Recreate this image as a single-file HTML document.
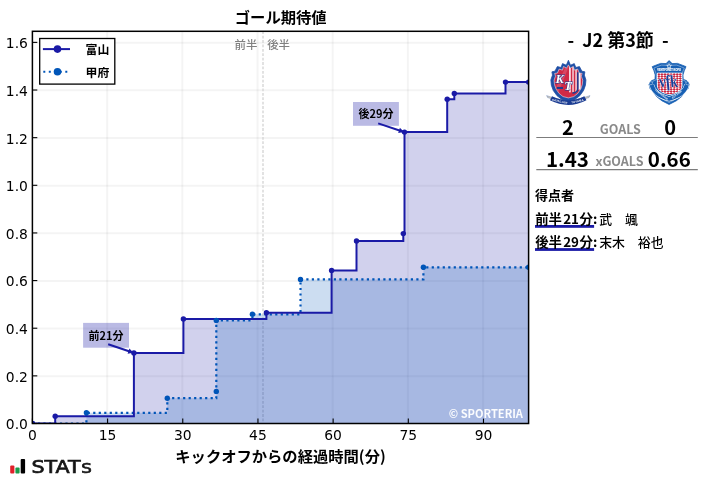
<!DOCTYPE html>
<html lang="ja">
<head>
<meta charset="utf-8">
<title>ゴール期待値</title>
<style>
html,body{margin:0;padding:0;background:#fff;}
body{width:707px;height:479px;overflow:hidden;font-family:"Liberation Sans","Noto Sans CJK JP",sans-serif;}
svg{display:block;}
.jp{font-family:"Noto Sans CJK JP","Liberation Sans",sans-serif;}
.dv{font-family:"DejaVu Sans","Liberation Sans",sans-serif;font-size:13.89px;fill:#000;}
</style>
</head>
<body>
<svg width="707" height="479" viewBox="0 0 707 479">
<rect x="0" y="0" width="707" height="479" fill="#ffffff"/>
<defs><clipPath id="ax"><rect x="32.4" y="31.3" width="496.20000000000005" height="392.2"/></clipPath></defs>
<g stroke="#000000" stroke-opacity="0.045" stroke-width="2" fill="none">
<line x1="107.18" y1="31.3" x2="107.18" y2="423.5"/>
<line x1="182.36" y1="31.3" x2="182.36" y2="423.5"/>
<line x1="257.55" y1="31.3" x2="257.55" y2="423.5"/>
<line x1="332.73" y1="31.3" x2="332.73" y2="423.5"/>
<line x1="407.91" y1="31.3" x2="407.91" y2="423.5"/>
<line x1="483.09" y1="31.3" x2="483.09" y2="423.5"/>
<line x1="32.4" y1="376.21" x2="528.6" y2="376.21"/>
<line x1="32.4" y1="328.57" x2="528.6" y2="328.57"/>
<line x1="32.4" y1="280.93" x2="528.6" y2="280.93"/>
<line x1="32.4" y1="233.29" x2="528.6" y2="233.29"/>
<line x1="32.4" y1="185.65" x2="528.6" y2="185.65"/>
<line x1="32.4" y1="138.01" x2="528.6" y2="138.01"/>
<line x1="32.4" y1="90.37" x2="528.6" y2="90.37"/>
<line x1="32.4" y1="42.73" x2="528.6" y2="42.73"/>
</g>
<line x1="263.0" y1="31.3" x2="263.0" y2="423.5" stroke="#d6d6d6" stroke-width="1.4" stroke-dasharray="2.8,1.6"/>
<text class="jp" x="257.4" y="49.2" font-size="11.4" font-weight="500" fill="#808080" text-anchor="end">前半</text>
<text class="jp" x="267.2" y="49.2" font-size="11.4" font-weight="500" fill="#808080">後半</text>
<g clip-path="url(#ax)">
<path d="M32.4,423.5 H55.2 V416.2 H133.9 V352.9 H183.4 V319.0 H266.4 V312.7 H331.6 V270.4 H356.5 V241.0 H403.3 V233.6 H404.5 V132.1 H447.2 V99.3 H454.3 V93.4 H505.5 V82.1 H528.6 V423.5 Z" fill="#1a1aa6" fill-opacity="0.2" stroke="none"/>
<path d="M32.4,423.5 H86.4 V412.8 H167.3 V398.2 H216.3 V391.4 H216.3 V320.4 H252.4 V314.3 H300.5 V279.4 H423.4 V267.3 H528.6 V423.5 Z" fill="#0055b8" fill-opacity="0.2" stroke="none"/>
<path d="M32.4,423.5 H86.4 V412.8 H167.3 V398.2 H216.3 V391.4 H216.3 V320.4 H252.4 V314.3 H300.5 V279.4 H423.4 V267.3 H528.6" fill="none" stroke="#0055b8" stroke-width="2.2" stroke-dasharray="2.2,3.3"/>
<path d="M32.4,423.5 H55.2 V416.2 H133.9 V352.9 H183.4 V319.0 H266.4 V312.7 H331.6 V270.4 H356.5 V241.0 H403.3 V233.6 H404.5 V132.1 H447.2 V99.3 H454.3 V93.4 H505.5 V82.1 H528.6" fill="none" stroke="#1a1aa6" stroke-width="2" stroke-linejoin="miter"/>
<g fill="#0055b8">
<circle cx="32.4" cy="423.5" r="2.7"/>
<circle cx="86.4" cy="412.8" r="2.7"/>
<circle cx="167.3" cy="398.2" r="2.7"/>
<circle cx="216.3" cy="391.4" r="2.7"/>
<circle cx="216.3" cy="320.4" r="2.7"/>
<circle cx="252.4" cy="314.3" r="2.7"/>
<circle cx="300.5" cy="279.4" r="2.7"/>
<circle cx="423.4" cy="267.3" r="2.7"/>
<circle cx="528.6" cy="267.3" r="2.7"/>
</g>
<g fill="#1a1aa6">
<circle cx="32.4" cy="423.5" r="2.7"/>
<circle cx="55.2" cy="416.2" r="2.7"/>
<circle cx="133.9" cy="352.9" r="2.7"/>
<circle cx="183.4" cy="319.0" r="2.7"/>
<circle cx="266.4" cy="312.7" r="2.7"/>
<circle cx="331.6" cy="270.4" r="2.7"/>
<circle cx="356.5" cy="241.0" r="2.7"/>
<circle cx="403.3" cy="233.6" r="2.7"/>
<circle cx="404.5" cy="132.1" r="2.7"/>
<circle cx="447.2" cy="99.3" r="2.7"/>
<circle cx="454.3" cy="93.4" r="2.7"/>
<circle cx="505.5" cy="82.1" r="2.7"/>
<circle cx="528.6" cy="82.1" r="2.7"/>
</g>
</g>
<rect x="83.1" y="322.9" width="45.9" height="24.8" fill="#1a1aa6" fill-opacity="0.3"/>
<text class="jp" x="106.0" y="339.7" font-size="11" font-weight="700" fill="#000" text-anchor="middle">前21分</text>
<line x1="108.2" y1="344.2" x2="133.4" y2="352.8" stroke="#1a1aa6" stroke-width="2"/>
<polygon points="133.4,352.8 127.6,353.7 129.4,348.6" fill="#1a1aa6"/>
<rect x="353.0" y="102.0" width="45.9" height="23.8" fill="#1a1aa6" fill-opacity="0.3"/>
<text class="jp" x="375.9" y="118.3" font-size="11" font-weight="700" fill="#000" text-anchor="middle">後29分</text>
<line x1="378.2" y1="123.4" x2="404.0" y2="132.0" stroke="#1a1aa6" stroke-width="2"/>
<polygon points="404.0,132.0 398.2,132.9 399.9,127.8" fill="#1a1aa6"/>
<text class="jp" x="523.0" y="417.8" font-size="11.1" font-weight="700" fill="#ffffff" fill-opacity="0.95" text-anchor="end">© SPORTERIA</text>
<rect x="32.4" y="31.3" width="496.20000000000005" height="392.2" fill="none" stroke="#000" stroke-width="1.5"/>
<g stroke="#000" stroke-width="1.1">
<line x1="32.40" y1="423.5" x2="32.40" y2="418.6"/>
<line x1="107.58" y1="423.5" x2="107.58" y2="418.6"/>
<line x1="182.76" y1="423.5" x2="182.76" y2="418.6"/>
<line x1="257.95" y1="423.5" x2="257.95" y2="418.6"/>
<line x1="333.13" y1="423.5" x2="333.13" y2="418.6"/>
<line x1="408.31" y1="423.5" x2="408.31" y2="418.6"/>
<line x1="483.49" y1="423.5" x2="483.49" y2="418.6"/>
<line x1="32.4" y1="423.50" x2="37.3" y2="423.50"/>
<line x1="32.4" y1="375.86" x2="37.3" y2="375.86"/>
<line x1="32.4" y1="328.22" x2="37.3" y2="328.22"/>
<line x1="32.4" y1="280.58" x2="37.3" y2="280.58"/>
<line x1="32.4" y1="232.94" x2="37.3" y2="232.94"/>
<line x1="32.4" y1="185.30" x2="37.3" y2="185.30"/>
<line x1="32.4" y1="137.66" x2="37.3" y2="137.66"/>
<line x1="32.4" y1="90.02" x2="37.3" y2="90.02"/>
<line x1="32.4" y1="42.38" x2="37.3" y2="42.38"/>
</g>
<text class="dv" x="32.40" y="440.3" text-anchor="middle">0</text>
<text class="dv" x="107.58" y="440.3" text-anchor="middle">15</text>
<text class="dv" x="182.76" y="440.3" text-anchor="middle">30</text>
<text class="dv" x="257.95" y="440.3" text-anchor="middle">45</text>
<text class="dv" x="333.13" y="440.3" text-anchor="middle">60</text>
<text class="dv" x="408.31" y="440.3" text-anchor="middle">75</text>
<text class="dv" x="483.49" y="440.3" text-anchor="middle">90</text>
<text class="dv" x="27.9" y="429.40" text-anchor="end">0.0</text>
<text class="dv" x="27.9" y="381.76" text-anchor="end">0.2</text>
<text class="dv" x="27.9" y="334.12" text-anchor="end">0.4</text>
<text class="dv" x="27.9" y="286.48" text-anchor="end">0.6</text>
<text class="dv" x="27.9" y="238.84" text-anchor="end">0.8</text>
<text class="dv" x="27.9" y="191.20" text-anchor="end">1.0</text>
<text class="dv" x="27.9" y="143.56" text-anchor="end">1.2</text>
<text class="dv" x="27.9" y="95.92" text-anchor="end">1.4</text>
<text class="dv" x="27.9" y="48.28" text-anchor="end">1.6</text>
<text class="jp" x="280.7" y="22.6" font-size="15.3" font-weight="700" fill="#000" text-anchor="middle">ゴール期待値</text>
<text class="jp" x="280.5" y="462.2" font-size="15.3" font-weight="700" fill="#000" text-anchor="middle">キックオフからの経過時間(分)</text>
<rect x="39.7" y="38.5" width="75.1" height="45.6" fill="#fff" stroke="#000" stroke-width="1.3"/>
<line x1="42.9" y1="49.1" x2="70" y2="49.1" stroke="#1a1aa6" stroke-width="2"/>
<circle cx="57.5" cy="49.1" r="3.8" fill="#1a1aa6"/>
<line x1="43.3" y1="71.8" x2="70" y2="71.8" stroke="#0055b8" stroke-width="2" stroke-dasharray="2,3.5"/>
<circle cx="57.5" cy="71.8" r="3.8" fill="#0055b8"/>
<text class="jp" x="85.6" y="53.8" font-size="11.9" font-weight="700" fill="#000">富山</text>
<text class="jp" x="85.6" y="76.6" font-size="11.9" font-weight="700" fill="#000">甲府</text>
<rect x="10.2" y="465.6" width="4.2" height="8" rx="1" fill="#e0202a"/>
<rect x="15.4" y="467.6" width="4.2" height="6" rx="1" fill="#1a9a4a"/>
<rect x="20.7" y="459" width="4.4" height="14.6" rx="1" fill="#000"/>
<text transform="translate(31.5,472.8) scale(1.185,1)" font-family="'DejaVu Sans','Liberation Sans',sans-serif" font-weight="400" font-size="17.4" fill="#151515" stroke="#151515" stroke-width="0.7">STAT<tspan font-size="14" dx="0.6">S</tspan></text>
<text class="jp" x="618" y="46.6" font-size="18" font-weight="700" fill="#000" text-anchor="middle" xml:space="preserve">-  J2 第3節  -</text>
<g id="crest-toyama">
<clipPath id="c1in"><polygon points="568.40,64.84 570.10,68.15 573.32,66.46 574.36,70.14 577.64,69.04 579.35,73.03 582.14,73.42 581.34,76.25 582.72,80.17 582.33,84.47 580.86,88.82 577.87,93.31 573.84,96.57 568.40,97.91 562.96,96.57 558.93,93.31 555.94,88.82 554.47,84.47 554.08,80.17 555.46,76.25 554.66,73.42 557.45,73.03 559.16,69.04 562.44,70.14 563.48,66.46 566.70,68.15"/></clipPath>
<path d="M546.6,95.6 Q568.40,104.4 590.0,95.6 L589.0,97.6 Q568.40,106.0 547.6,97.6 Z" fill="#d2cab8" stroke="#1f4fa5" stroke-width="0.3"/>
<polygon points="568.40,60.28 570.48,65.19 574.27,63.61 575.79,67.47 579.48,66.60 581.85,71.16 584.88,71.86 584.32,75.11 585.93,79.93 585.45,85.19 583.56,90.46 579.77,95.72 574.84,99.40 568.40,102.04 561.96,99.40 557.03,95.72 553.24,90.46 551.35,85.19 550.87,79.93 552.48,75.11 551.92,71.86 554.95,71.16 557.32,66.60 561.01,67.47 562.53,63.61 566.32,65.19" fill="#1f4fa5" stroke="#1f4fa5" stroke-width="0.8" stroke-linejoin="round"/>
<polygon points="568.40,64.84 570.10,68.15 573.32,66.46 574.36,70.14 577.64,69.04 579.35,73.03 582.14,73.42 581.34,76.25 582.72,80.17 582.33,84.47 580.86,88.82 577.87,93.31 573.84,96.57 568.40,97.91 562.96,96.57 558.93,93.31 555.94,88.82 554.47,84.47 554.08,80.17 555.46,76.25 554.66,73.42 557.45,73.03 559.16,69.04 562.44,70.14 563.48,66.46 566.70,68.15" fill="#d02a46" stroke="#ffffff" stroke-width="0.5"/>
<g clip-path="url(#c1in)">
<polygon points="554,92 566,66 569,66 557,96" fill="#e0607a" opacity="0.55"/>
<rect x="569.16" y="62" width="1.52" height="30.33" fill="#ffffff"/>
<rect x="572.42" y="62" width="1.19" height="30.33" fill="#ffffff"/>
<rect x="575.45" y="62" width="1.19" height="30.33" fill="#ffffff"/>
<rect x="578.27" y="72.27" width="2.39" height="17.35" fill="#f4f4fa"/>
<path d="M577.84,72.27 V88.54 Q577.84,92.88 572.42,93.09" fill="none" stroke="#1b3c92" stroke-width="1.5"/>
</g>
<text x="555.50" y="83.33" font-family="'Liberation Serif',serif" font-style="italic" font-weight="700" font-size="12.5" fill="#ffffff" stroke="#1b3c92" stroke-width="0.9" paint-order="stroke">K</text>
<text x="564.17" y="90.06" font-family="'Liberation Serif',serif" font-style="italic" font-weight="700" font-size="12.5" fill="#ffffff" stroke="#1b3c92" stroke-width="0.9" paint-order="stroke">T</text>
<rect x="556.80" y="86.94" width="6.2" height="2.0" fill="#1b3c92"/>
<path id="rib1" d="M551.0,98.3 Q568.40,107.1 585.4,98.3" fill="none" stroke="#1b3c92" stroke-width="4.6"/>
<g font-family="'Liberation Sans',sans-serif" font-weight="700" font-size="2.7" fill="#ffffff" letter-spacing="0.2" text-anchor="middle"><text transform="translate(559.6,102.3) rotate(12)">KATALLER</text><text transform="translate(577.6,102.2) rotate(-12)">TOYAMA</text></g>
</g>
<g id="crest-kofu">
<polygon points="669.10,60.56 672.11,63.59 677.54,63.38 682.42,65.22 686.00,66.63 684.26,70.64 682.96,74.98 683.18,79.32 686.76,80.73 689.14,84.42 688.17,88.54 685.35,91.79 681.88,96.35 676.45,100.69 669.10,104.48 661.75,100.69 656.32,96.35 652.85,91.79 650.03,88.54 649.06,84.42 651.44,80.73 655.02,79.32 655.24,74.98 653.94,70.64 652.20,66.63 655.78,65.22 660.66,63.38 666.09,63.59" fill="#1760b4" stroke="#1760b4" stroke-width="0.8" stroke-linejoin="round"/>
<polygon points="669.10,62.53 671.81,65.29 676.69,65.10 681.09,66.77 684.31,68.06 682.75,71.71 681.57,75.66 681.77,79.61 684.99,80.89 687.14,84.24 686.26,87.99 683.72,90.96 680.60,95.10 675.72,99.05 669.10,102.50 662.48,99.05 657.60,95.10 654.48,90.96 651.94,87.99 651.06,84.24 653.21,80.89 656.43,79.61 656.63,75.66 655.45,71.71 653.89,68.06 657.11,66.77 661.51,65.10 666.39,65.29" fill="none" stroke="#ffffff" stroke-width="0.45" stroke-opacity="0.85"/>
<clipPath id="c2in"><path d="M657.40,73.20 H681.90 V86.00 Q681.40,92.40 669.60,94.60 Q657.90,92.40 657.40,86.00 Z"/></clipPath>
<path d="M657.40,73.20 H681.90 V86.00 Q681.40,92.40 669.60,94.60 Q657.90,92.40 657.40,86.00 Z" fill="#ffffff" stroke="#ffffff" stroke-width="1.0"/>
<g clip-path="url(#c2in)" fill="#cc2440">
<path d="M658.90,73.02 L660.58,74.20 L658.90,75.38 L657.22,74.20 Z M661.95,73.02 L663.63,74.20 L661.95,75.38 L660.27,74.20 Z M665.00,73.02 L666.68,74.20 L665.00,75.38 L663.32,74.20 Z M668.05,73.02 L669.73,74.20 L668.05,75.38 L666.37,74.20 Z M671.10,73.02 L672.78,74.20 L671.10,75.38 L669.42,74.20 Z M674.15,73.02 L675.83,74.20 L674.15,75.38 L672.47,74.20 Z M677.20,73.02 L678.88,74.20 L677.20,75.38 L675.52,74.20 Z M680.25,73.02 L681.93,74.20 L680.25,75.38 L678.57,74.20 Z M683.30,73.02 L684.98,74.20 L683.30,75.38 L681.62,74.20 Z M658.90,75.17 L660.58,76.35 L658.90,77.53 L657.22,76.35 Z M661.95,75.17 L663.63,76.35 L661.95,77.53 L660.27,76.35 Z M665.00,75.17 L666.68,76.35 L665.00,77.53 L663.32,76.35 Z M668.05,75.17 L669.73,76.35 L668.05,77.53 L666.37,76.35 Z M671.10,75.17 L672.78,76.35 L671.10,77.53 L669.42,76.35 Z M674.15,75.17 L675.83,76.35 L674.15,77.53 L672.47,76.35 Z M677.20,75.17 L678.88,76.35 L677.20,77.53 L675.52,76.35 Z M680.25,75.17 L681.93,76.35 L680.25,77.53 L678.57,76.35 Z M683.30,75.17 L684.98,76.35 L683.30,77.53 L681.62,76.35 Z M658.90,77.32 L660.58,78.50 L658.90,79.68 L657.22,78.50 Z M661.95,77.32 L663.63,78.50 L661.95,79.68 L660.27,78.50 Z M665.00,77.32 L666.68,78.50 L665.00,79.68 L663.32,78.50 Z M668.05,77.32 L669.73,78.50 L668.05,79.68 L666.37,78.50 Z M671.10,77.32 L672.78,78.50 L671.10,79.68 L669.42,78.50 Z M674.15,77.32 L675.83,78.50 L674.15,79.68 L672.47,78.50 Z M677.20,77.32 L678.88,78.50 L677.20,79.68 L675.52,78.50 Z M680.25,77.32 L681.93,78.50 L680.25,79.68 L678.57,78.50 Z M683.30,77.32 L684.98,78.50 L683.30,79.68 L681.62,78.50 Z M658.90,79.47 L660.58,80.65 L658.90,81.83 L657.22,80.65 Z M661.95,79.47 L663.63,80.65 L661.95,81.83 L660.27,80.65 Z M665.00,79.47 L666.68,80.65 L665.00,81.83 L663.32,80.65 Z M668.05,79.47 L669.73,80.65 L668.05,81.83 L666.37,80.65 Z M671.10,79.47 L672.78,80.65 L671.10,81.83 L669.42,80.65 Z M674.15,79.47 L675.83,80.65 L674.15,81.83 L672.47,80.65 Z M677.20,79.47 L678.88,80.65 L677.20,81.83 L675.52,80.65 Z M680.25,79.47 L681.93,80.65 L680.25,81.83 L678.57,80.65 Z M683.30,79.47 L684.98,80.65 L683.30,81.83 L681.62,80.65 Z M658.90,81.62 L660.58,82.80 L658.90,83.98 L657.22,82.80 Z M661.95,81.62 L663.63,82.80 L661.95,83.98 L660.27,82.80 Z M665.00,81.62 L666.68,82.80 L665.00,83.98 L663.32,82.80 Z M668.05,81.62 L669.73,82.80 L668.05,83.98 L666.37,82.80 Z M671.10,81.62 L672.78,82.80 L671.10,83.98 L669.42,82.80 Z M674.15,81.62 L675.83,82.80 L674.15,83.98 L672.47,82.80 Z M677.20,81.62 L678.88,82.80 L677.20,83.98 L675.52,82.80 Z M680.25,81.62 L681.93,82.80 L680.25,83.98 L678.57,82.80 Z M683.30,81.62 L684.98,82.80 L683.30,83.98 L681.62,82.80 Z M658.90,83.77 L660.58,84.95 L658.90,86.13 L657.22,84.95 Z M661.95,83.77 L663.63,84.95 L661.95,86.13 L660.27,84.95 Z M665.00,83.77 L666.68,84.95 L665.00,86.13 L663.32,84.95 Z M668.05,83.77 L669.73,84.95 L668.05,86.13 L666.37,84.95 Z M671.10,83.77 L672.78,84.95 L671.10,86.13 L669.42,84.95 Z M674.15,83.77 L675.83,84.95 L674.15,86.13 L672.47,84.95 Z M677.20,83.77 L678.88,84.95 L677.20,86.13 L675.52,84.95 Z M680.25,83.77 L681.93,84.95 L680.25,86.13 L678.57,84.95 Z M683.30,83.77 L684.98,84.95 L683.30,86.13 L681.62,84.95 Z M658.90,85.92 L660.58,87.10 L658.90,88.28 L657.22,87.10 Z M661.95,85.92 L663.63,87.10 L661.95,88.28 L660.27,87.10 Z M665.00,85.92 L666.68,87.10 L665.00,88.28 L663.32,87.10 Z M668.05,85.92 L669.73,87.10 L668.05,88.28 L666.37,87.10 Z M671.10,85.92 L672.78,87.10 L671.10,88.28 L669.42,87.10 Z M674.15,85.92 L675.83,87.10 L674.15,88.28 L672.47,87.10 Z M677.20,85.92 L678.88,87.10 L677.20,88.28 L675.52,87.10 Z M680.25,85.92 L681.93,87.10 L680.25,88.28 L678.57,87.10 Z M683.30,85.92 L684.98,87.10 L683.30,88.28 L681.62,87.10 Z M658.90,88.07 L660.58,89.25 L658.90,90.43 L657.22,89.25 Z M661.95,88.07 L663.63,89.25 L661.95,90.43 L660.27,89.25 Z M665.00,88.07 L666.68,89.25 L665.00,90.43 L663.32,89.25 Z M668.05,88.07 L669.73,89.25 L668.05,90.43 L666.37,89.25 Z M671.10,88.07 L672.78,89.25 L671.10,90.43 L669.42,89.25 Z M674.15,88.07 L675.83,89.25 L674.15,90.43 L672.47,89.25 Z M677.20,88.07 L678.88,89.25 L677.20,90.43 L675.52,89.25 Z M680.25,88.07 L681.93,89.25 L680.25,90.43 L678.57,89.25 Z M683.30,88.07 L684.98,89.25 L683.30,90.43 L681.62,89.25 Z M658.90,90.22 L660.58,91.40 L658.90,92.58 L657.22,91.40 Z M661.95,90.22 L663.63,91.40 L661.95,92.58 L660.27,91.40 Z M665.00,90.22 L666.68,91.40 L665.00,92.58 L663.32,91.40 Z M668.05,90.22 L669.73,91.40 L668.05,92.58 L666.37,91.40 Z M671.10,90.22 L672.78,91.40 L671.10,92.58 L669.42,91.40 Z M674.15,90.22 L675.83,91.40 L674.15,92.58 L672.47,91.40 Z M677.20,90.22 L678.88,91.40 L677.20,92.58 L675.52,91.40 Z M680.25,90.22 L681.93,91.40 L680.25,92.58 L678.57,91.40 Z M683.30,90.22 L684.98,91.40 L683.30,92.58 L681.62,91.40 Z M658.90,92.37 L660.58,93.55 L658.90,94.73 L657.22,93.55 Z M661.95,92.37 L663.63,93.55 L661.95,94.73 L660.27,93.55 Z M665.00,92.37 L666.68,93.55 L665.00,94.73 L663.32,93.55 Z M668.05,92.37 L669.73,93.55 L668.05,94.73 L666.37,93.55 Z M671.10,92.37 L672.78,93.55 L671.10,94.73 L669.42,93.55 Z M674.15,92.37 L675.83,93.55 L674.15,94.73 L672.47,93.55 Z M677.20,92.37 L678.88,93.55 L677.20,94.73 L675.52,93.55 Z M680.25,92.37 L681.93,93.55 L680.25,94.73 L678.57,93.55 Z M683.30,92.37 L684.98,93.55 L683.30,94.73 L681.62,93.55 Z M658.90,94.52 L660.58,95.70 L658.90,96.88 L657.22,95.70 Z M661.95,94.52 L663.63,95.70 L661.95,96.88 L660.27,95.70 Z M665.00,94.52 L666.68,95.70 L665.00,96.88 L663.32,95.70 Z M668.05,94.52 L669.73,95.70 L668.05,96.88 L666.37,95.70 Z M671.10,94.52 L672.78,95.70 L671.10,96.88 L669.42,95.70 Z M674.15,94.52 L675.83,95.70 L674.15,96.88 L672.47,95.70 Z M677.20,94.52 L678.88,95.70 L677.20,96.88 L675.52,95.70 Z M680.25,94.52 L681.93,95.70 L680.25,96.88 L678.57,95.70 Z M683.30,94.52 L684.98,95.70 L683.30,96.88 L681.62,95.70 Z"/>
</g>
<text x="669.08" y="71.18" font-family="'Liberation Sans',sans-serif" font-weight="700" font-size="3.3" fill="#ffffff" stroke="#ffffff" stroke-width="0.15" text-anchor="middle" textLength="23.5" lengthAdjust="spacingAndGlyphs">VENTFORET KOFU</text>
<polygon points="669.08,63.80 669.70,65.45 671.46,65.53 670.08,66.63 670.55,68.33 669.08,67.35 667.61,68.33 668.08,66.63 666.70,65.53 668.46,65.45" fill="#1760b4" stroke="#ffffff" stroke-width="0.7"/>
<text x="0" y="0" font-family="'Liberation Serif',serif" font-weight="700" font-style="italic" font-size="17" fill="#1a3f98" stroke="#ffffff" stroke-width="0.7" paint-order="stroke" text-anchor="middle" transform="translate(669.60,86.60) skewX(14) scale(0.84,1)">vfk</text>
<path d="M651.51,84.42 Q653.51,94.84 669.10,98.84 Q684.87,94.84 686.87,84.42" fill="none" stroke="#ffffff" stroke-width="5.0"/>
<path id="rib2" d="M651.51,84.42 Q653.51,94.84 669.10,98.84 Q684.87,94.84 686.87,84.42" fill="none" stroke="#1760b4" stroke-width="4.0"/>
<g font-family="'Liberation Sans',sans-serif" font-weight="700" font-size="2.5" fill="#ffffff" letter-spacing="0.1" text-anchor="middle"><text transform="translate(661.0,95.2) rotate(38)">YAMANASHI</text><text transform="translate(677.4,95.2) rotate(-38)">EST.1965</text></g>
<circle cx="650.91" cy="83.22" r="1.6" fill="#1760b4" stroke="#ffffff" stroke-width="0.4"/>
<circle cx="687.47" cy="83.22" r="1.6" fill="#1760b4" stroke="#ffffff" stroke-width="0.4"/>
</g>
<text class="jp" x="567.9" y="134.6" font-size="20" font-weight="700" fill="#000" text-anchor="middle">2</text>
<text class="jp" x="670.2" y="134.6" font-size="20" font-weight="700" fill="#000" text-anchor="middle">0</text>
<text class="jp" x="620.3" y="134.3" font-size="12.5" font-weight="700" fill="#8a8a8a" text-anchor="middle">GOALS</text>
<line x1="536.3" y1="137.5" x2="697.8" y2="137.5" stroke="#7c7c7c" stroke-width="1"/>
<text class="jp" x="567.5" y="167.0" font-size="20.5" font-weight="700" fill="#000" text-anchor="middle">1.43</text>
<text class="jp" x="669.3" y="167.0" font-size="20.5" font-weight="700" fill="#000" text-anchor="middle">0.66</text>
<text class="jp" x="619.5" y="165.6" font-size="12.5" font-weight="700" fill="#8a8a8a" text-anchor="middle">xGOALS</text>
<line x1="536.3" y1="169.6" x2="697.8" y2="169.6" stroke="#7c7c7c" stroke-width="1.1"/>
<text class="jp" x="535" y="199.8" font-size="13" font-weight="700" fill="#000">得点者</text>
<rect x="535" y="225.0" width="59.1" height="2.8" fill="#1a1aa6"/>
<text class="jp" x="535.2" y="224" font-size="13.4" font-weight="700" fill="#000">前半<tspan dx="1.2">21</tspan><tspan dx="0.6">分:</tspan></text>
<text class="jp" x="599.2" y="223.7" font-size="12.9" font-weight="500" fill="#000" xml:space="preserve">武　颯</text>
<rect x="535" y="248.1" width="59.1" height="2.8" fill="#1a1aa6"/>
<text class="jp" x="535.2" y="247.4" font-size="13.4" font-weight="700" fill="#000">後半<tspan dx="1.2">29</tspan><tspan dx="0.6">分:</tspan></text>
<text class="jp" x="599.2" y="247.1" font-size="12.9" font-weight="500" fill="#000" xml:space="preserve">末木　裕也</text>
</svg>
</body>
</html>
